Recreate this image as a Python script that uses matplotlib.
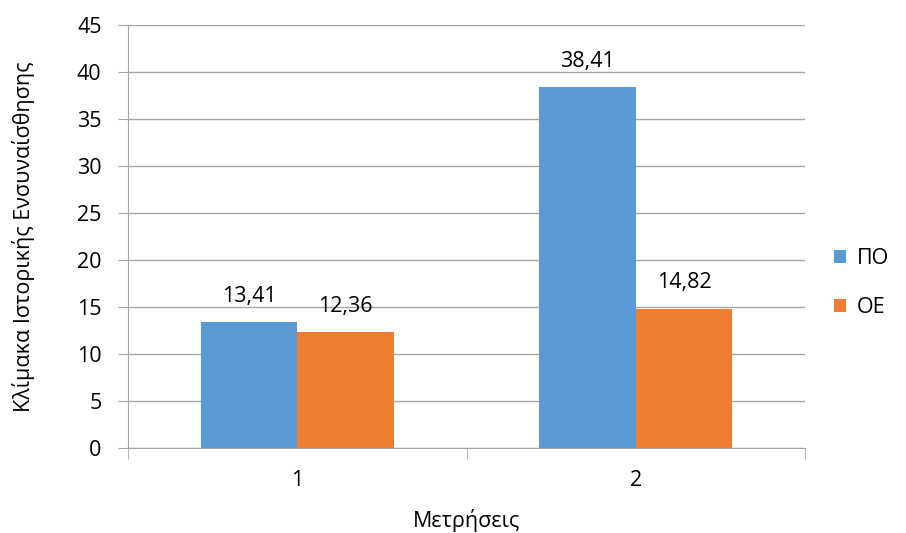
import matplotlib
matplotlib.use("Agg")
import matplotlib.pyplot as plt
import numpy as np

categories = ["1", "2"]
series_names = ["ΠΟ", "ΟΕ"]
po_values = [13.41, 38.41]
oe_values = [12.36, 14.82]
yticks = [0, 5, 10, 15, 20, 25, 30, 35, 40, 45]

plt.rcParams['font.family'] = ['Open Sans', 'Noto Sans', 'DejaVu Sans']
FS = 15.5

fig = plt.figure(figsize=(9.06, 5.33), dpi=100)
ax = fig.add_axes([128/906, 85/533, (805-128)/906, (448-25)/533])

x = np.arange(len(categories))
w = 0.285
colors = ["#5B9BD5", "#ED7D31"]
b1 = ax.bar(x - w/2, po_values, w, color=colors[0], label=series_names[0], zorder=3)
b2 = ax.bar(x + w/2, oe_values, w, color=colors[1], label=series_names[1], zorder=3)

for bars in (b1, b2):
    for r in bars:
        v = r.get_height()
        ax.annotate(f"{v:.2f}".replace(".", ","), (r.get_x() + r.get_width()/2, v),
                    xytext=(0, 11), textcoords="offset points", ha="center", va="bottom",
                    fontsize=FS, color="#000000")

ax.set_xlim(-0.5, 1.5)
ax.set_ylim(0, 45)
ax.set_yticks(yticks)
ax.set_yticklabels([str(t) for t in yticks], fontsize=FS)
ax.set_xticks(x)
ax.set_xticklabels(categories, fontsize=FS)
ax.tick_params(axis='x', length=0, pad=16)
ax.tick_params(axis='y', length=7, color="#A6A6A6", pad=12)
# category boundary tick marks
ax.set_xticks([-0.5, 0.5, 1.5], minor=True)
ax.tick_params(axis='x', which='minor', length=8, color="#A6A6A6", direction='out')

ax.grid(axis='y', color="#A6A6A6", linewidth=1, zorder=0)
for s in ["top", "right"]:
    ax.spines[s].set_visible(False)
ax.spines["left"].set_color("#A6A6A6")
ax.spines["bottom"].set_color("#A6A6A6")

ax.set_ylabel("Κλίμακα Ιστορικής Ενσυναίσθησης", fontsize=FS)
ax.yaxis.set_label_coords(-93/677, 0.5)
ax.set_xlabel("Μετρήσεις", fontsize=FS)
ax.xaxis.set_label_coords(0.5, -61/423)

leg = fig.legend(handles=[b1, b2], labels=series_names, loc="center left",
                 bbox_to_anchor=(815/906, 1 - 283/533), frameon=False, fontsize=FS,
                 handlelength=0.55, handleheight=0.55, labelspacing=1.3, handletextpad=0.5)

fig.savefig("out.png", dpi=100)
